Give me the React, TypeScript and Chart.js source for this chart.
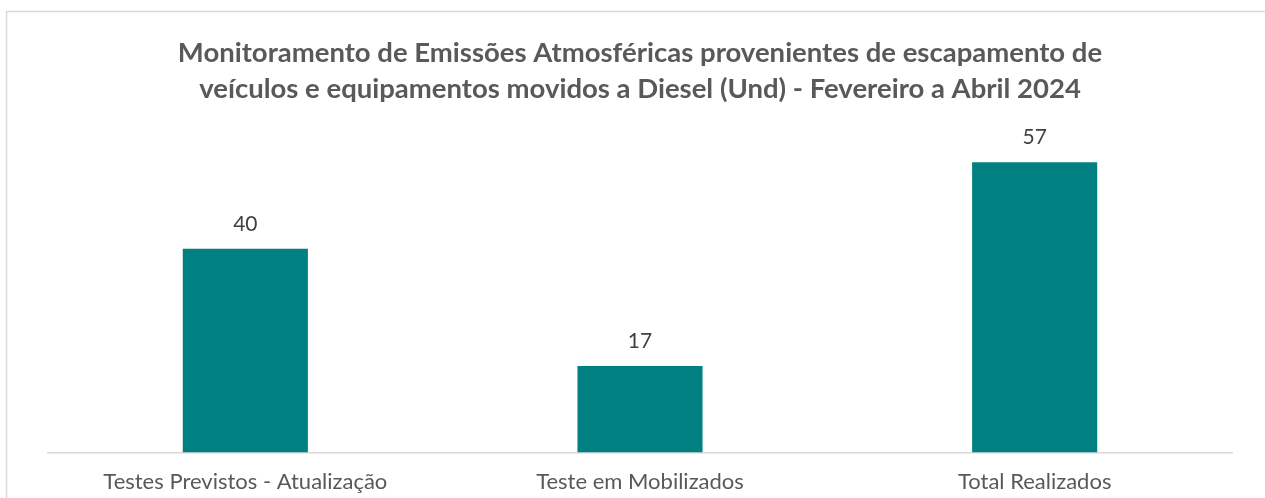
import { useEffect, useRef } from 'react';
import { Chart, registerables } from 'chart.js';

Chart.register(...registerables);

const categories = ['Testes Previstos - Atualização', 'Teste em Mobilizados', 'Total Realizados'];
const values = [40, 17, 57];
const titleLines = [
  'Monitoramento de Emissões Atmosféricas provenientes de escapamento de',
  'veículos e equipamentos movidos a Diesel (Und) - Fevereiro a Abril 2024',
];
const yMin = 0;
const yMax = 60;

const FONT = 'Lato';

export default function App() {
  const ref = useRef<HTMLCanvasElement>(null);

  useEffect(() => {
    document.body.style.margin = '0';
    const canvas = ref.current;
    if (!canvas) return;

    const framePlugin = {
      id: 'frame',
      beforeDraw(chart: any) {
        const ctx = chart.ctx;
        ctx.save();
        ctx.fillStyle = '#ffffff';
        ctx.fillRect(0, 0, chart.width, chart.height);
        ctx.strokeStyle = '#d9d9d9';
        ctx.lineWidth = 1.5;
        ctx.strokeRect(6.5, 11.5, chart.width + 20, chart.height + 20);
        ctx.restore();
      },
    };

    const valueLabels = {
      id: 'valueLabels',
      afterDatasetsDraw(chart: any) {
        const ctx = chart.ctx;
        const meta = chart.getDatasetMeta(0);
        ctx.save();
        ctx.font = `21px ${FONT}`;
        ctx.fillStyle = '#404040';
        ctx.textAlign = 'center';
        ctx.textBaseline = 'middle';
        meta.data.forEach((bar: any, i: number) => {
          ctx.fillText(String(values[i]), bar.x, bar.y - 25);
        });
        ctx.restore();
      },
    };

    const chart = new Chart(canvas, {
      type: 'bar',
      data: {
        labels: categories,
        datasets: [
          {
            data: values,
            backgroundColor: '#008080',
            borderWidth: 0,
            categoryPercentage: 1,
            barPercentage: 0.317,
          },
        ],
      },
      options: {
        animation: false,
        responsive: false,
        maintainAspectRatio: false,
        layout: { padding: { left: 48, right: 33, top: 0, bottom: 0 } },
        plugins: {
          legend: { display: false },
          tooltip: { enabled: false },
          title: {
            display: true,
            text: titleLines,
            color: '#595959',
            font: { family: FONT, size: 27.5, weight: 'bold', lineHeight: 1.31 },
            padding: { top: 35, bottom: 40 },
          },
        },
        scales: {
          x: {
            grid: { display: false, drawTicks: false },
            border: { display: true, color: '#d9d9d9', width: 1.5 },
            ticks: {
              color: '#595959',
              font: { family: FONT, size: 22 },
              padding: 16,
              maxRotation: 0,
              autoSkip: false,
            },
            afterFit(scale: any) {
              scale.height = 45.5;
            },
          },
          y: {
            display: false,
            min: yMin,
            max: yMax,
          },
        },
      },
      plugins: [framePlugin, valueLabels],
    });

    return () => chart.destroy();
  }, []);

  return (
    <div style={{ width: 1265, height: 498, overflow: 'hidden' }}>
      <canvas ref={ref} width={1265} height={498} style={{ display: 'block' }} />
    </div>
  );
}
